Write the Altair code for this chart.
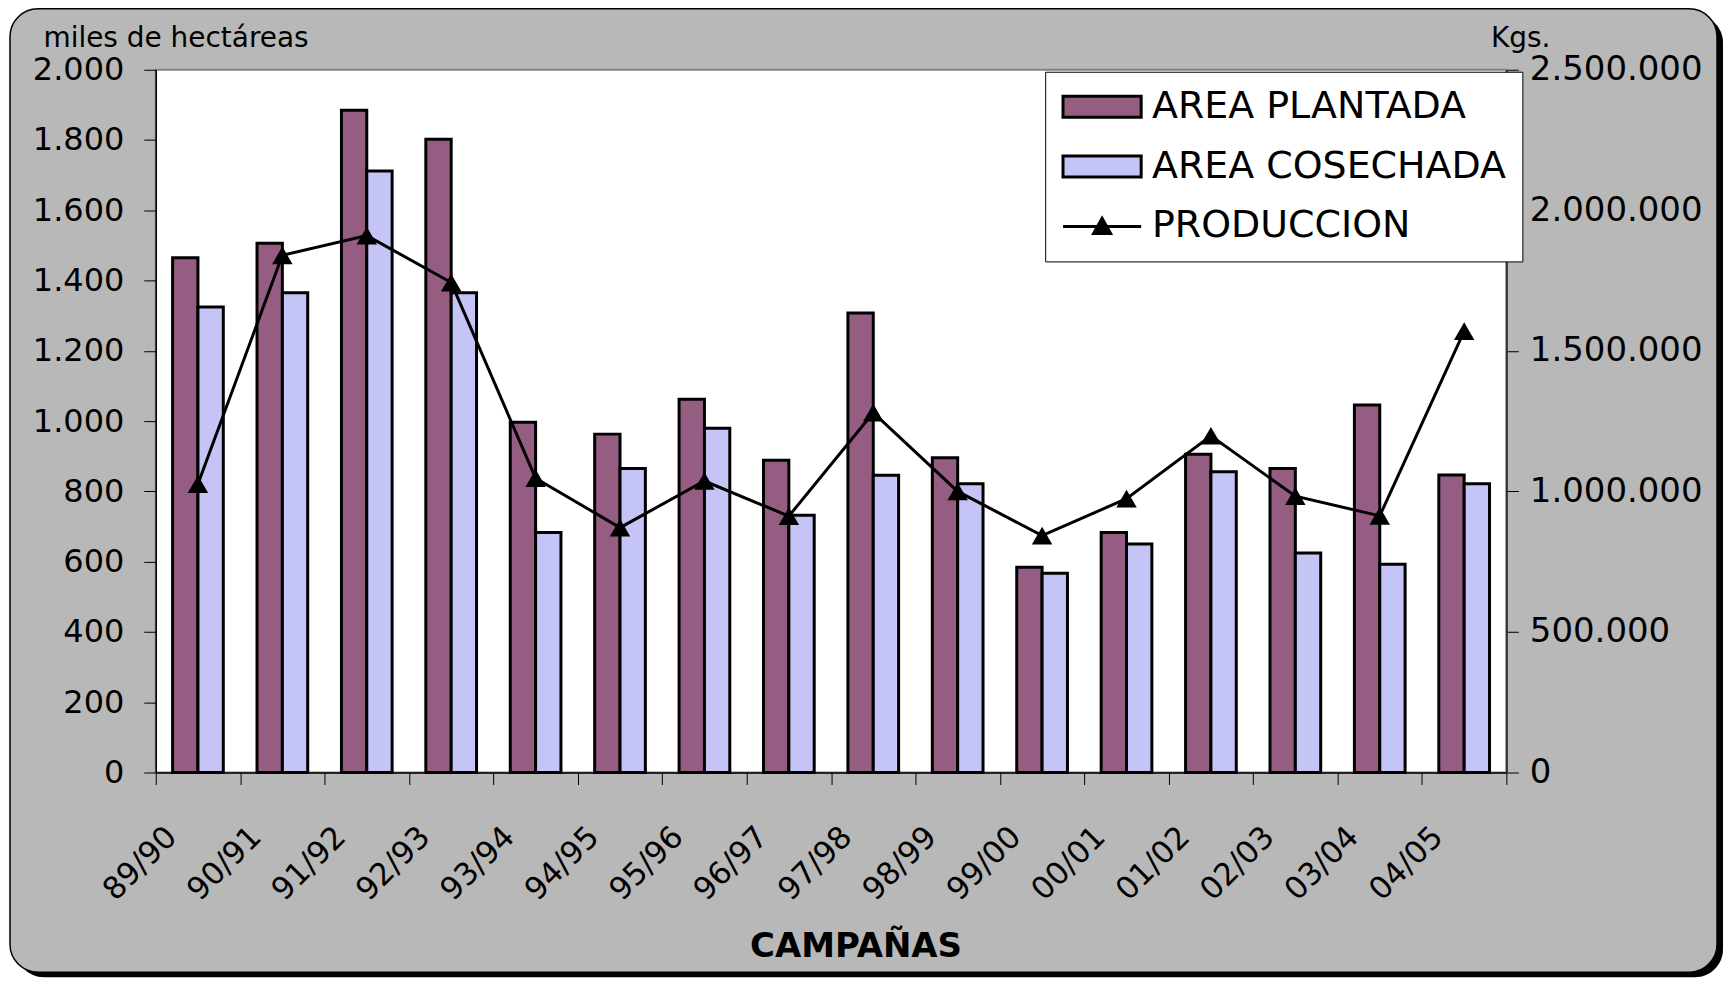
import altair as alt
import pandas as pd

# ---------------- data ----------------
campanas = ["89/90", "90/91", "91/92", "92/93", "93/94", "94/95", "95/96", "96/97",
            "97/98", "98/99", "99/00", "00/01", "01/02", "02/03", "03/04", "04/05"]
area_plantada = [1465, 1506, 1885, 1802, 997, 963, 1062, 889,
                 1308, 896, 584, 683, 906, 865, 1046, 847]
area_cosechada = [1325, 1365, 1712, 1365, 683, 865, 980, 732,
                  846, 822, 567, 650, 856, 625, 593, 822]
produccion = [1026000, 1840000, 1910000, 1743000, 1047000, 871000, 1037000, 912000,
              1280000, 1000000, 843000, 974000, 1198000, 983000, 913000, 1570000]
series = ["AREA PLANTADA", "AREA COSECHADA", "PRODUCCION"]
left_ticks = [0, 200, 400, 600, 800, 1000, 1200, 1400, 1600, 1800, 2000]
right_ticks = [0, 500000, 1000000, 1500000, 2000000, 2500000]

# ---------------- styling ----------------
FONT = "DejaVu Sans"
W, H = 1353, 704
colors = ["#955d82", "#c4c4f6", "#000000"]
RECT = "M-3.45,-0.93L3.45,-0.93L3.45,0.93L-3.45,0.93Z"
LINETRI = "M-3.45,0L3.45,0M-0.75,0.62L0,-0.72L0.75,0.62Z"
dot_fmt = "replace(format(datum.value, ','), regexp(',', 'g'), '.')"

bar_df = pd.DataFrame({
    "campana": campanas * 2,
    "serie": [series[0]] * len(campanas) + [series[1]] * len(campanas),
    "valor": area_plantada + area_cosechada,
})
prod_df = pd.DataFrame({"campana": campanas, "produccion": produccion})
legend_df = pd.DataFrame({"serie": series})
one = pd.DataFrame({"k": [0]})

fill_scale = alt.Scale(domain=series, range=colors)
legend = alt.Legend(
    title=None, orient="none", legendX=891, legendY=2, fillColor="white",
    strokeColor="black", padding=16, labelFont=FONT, labelFontSize=38,
    labelColor="black", labelOffset=31, labelLimit=800, rowPadding=22,
    symbolOffset=22, symbolStrokeWidth=3, symbolSize=515,
    symbolOpacity=1, zindex=2,
)

x_axis = alt.Axis(
    title="CAMPAÑAS", titleFont=FONT, titleFontSize=34, titleFontWeight="bold",
    titleColor="black", titleX=701, titleY=184, titleAlign="center",
    titleBaseline="alphabetic", labelAngle=-45, labelAlign="right",
    labelBaseline="alphabetic", labelOffset=-20, labelPadding=54,
    labelFont=FONT, labelFontSize=31, labelColor="black", tickBand="extent",
    tickSize=12, tickColor="black", domainColor="black", domainWidth=1.5,
    grid=False, zindex=1,
)
x_enc = alt.X("campana:N", sort=campanas,
              scale=alt.Scale(paddingInner=0, paddingOuter=0), axis=x_axis)

# decorative frame
shadow = alt.Chart(one).mark_rect(color="black", cornerRadius=28).encode(
    x=alt.value(-140), x2=alt.value(W + 217), y=alt.value(-55), y2=alt.value(H + 205))
frame = alt.Chart(one).mark_rect(fill="#b8b8b8", stroke="black", strokeWidth=1.5,
                                 cornerRadius=28).encode(
    x=alt.value(-146), x2=alt.value(W + 211), y=alt.value(-61), y2=alt.value(H + 200))
plotbg = alt.Chart(one).mark_rect(fill="white", stroke="#808080", strokeWidth=2).encode(
    x=alt.value(0), x2=alt.value(W), y=alt.value(0), y2=alt.value(H))

bars = alt.Chart(bar_df).mark_bar(stroke="black", strokeWidth=3).encode(
    x=x_enc,
    xOffset=alt.XOffset("serie:N", sort=series[:2],
                        scale=alt.Scale(paddingInner=0, paddingOuter=0.665)),
    y=alt.Y("valor:Q", scale=alt.Scale(domain=[0, 2000], nice=False),
            axis=alt.Axis(
                orient="left", values=left_ticks, labelExpr=dot_fmt,
                title="miles de hectáreas", titleAngle=0, titleAlign="left",
                titleBaseline="alphabetic", titleX=-113, titleY=-23,
                titleFont=FONT, titleFontSize=28, titleFontWeight="normal",
                titleColor="black", labelFont=FONT, labelFontSize=32,
                labelColor="black", labelPadding=20, tickSize=12,
                tickColor="black", domainColor="black", domainWidth=1.5,
                grid=False, zindex=1)),
    fill=alt.Fill("serie:N", scale=fill_scale, legend=legend),
)

right_axis = alt.Axis(
    orient="right", values=right_ticks, labelExpr=dot_fmt, title="Kgs.",
    titleAngle=0, titleAlign="left", titleBaseline="alphabetic", titleX=-16,
    titleY=-23, titleFont=FONT, titleFontSize=28, titleFontWeight="normal",
    titleColor="black", labelFont=FONT, labelFontSize=34, labelColor="black",
    labelPadding=11, tickSize=12, tickColor="black", domainColor="#333333",
    domainWidth=2, grid=False, zindex=1)
y_prod = alt.Y("produccion:Q", scale=alt.Scale(domain=[0, 2500000], nice=False),
               axis=right_axis)

line = alt.Chart(prod_df).mark_line(color="black", strokeWidth=3).encode(
    x=alt.X("campana:N", sort=campanas), y=y_prod)
points = alt.Chart(prod_df).mark_point(shape="triangle-up", filled=True, color="black",
                                       size=420, opacity=1).encode(
    x=alt.X("campana:N", sort=campanas), y=y_prod)

carrier = alt.Chart(legend_df).mark_point(filled=True, opacity=0, strokeWidth=3).encode(
    x=alt.value(0), y=alt.value(0),
    fill=alt.Fill("serie:N", scale=fill_scale, legend=legend),
    stroke=alt.Stroke("serie:N", scale=alt.Scale(domain=series,
                                                 range=["black", "black", "black"]),
                      legend=legend),
    shape=alt.Shape("serie:N", scale=alt.Scale(domain=series, range=[RECT, RECT, LINETRI]),
                    legend=legend),
)

chart = alt.layer(
    shadow, frame, plotbg, bars, alt.layer(line, points), carrier
).resolve_scale(y="independent").properties(
    width=W, height=H,
    autosize=alt.AutoSizeParams(type="none"),
    padding={"left": 148, "top": 61, "right": 217, "bottom": 205},
    background="white",
).configure(font=FONT).configure_view(stroke="transparent")

chart.save("out.html", embed_options={"renderer": "svg", "actions": False})
